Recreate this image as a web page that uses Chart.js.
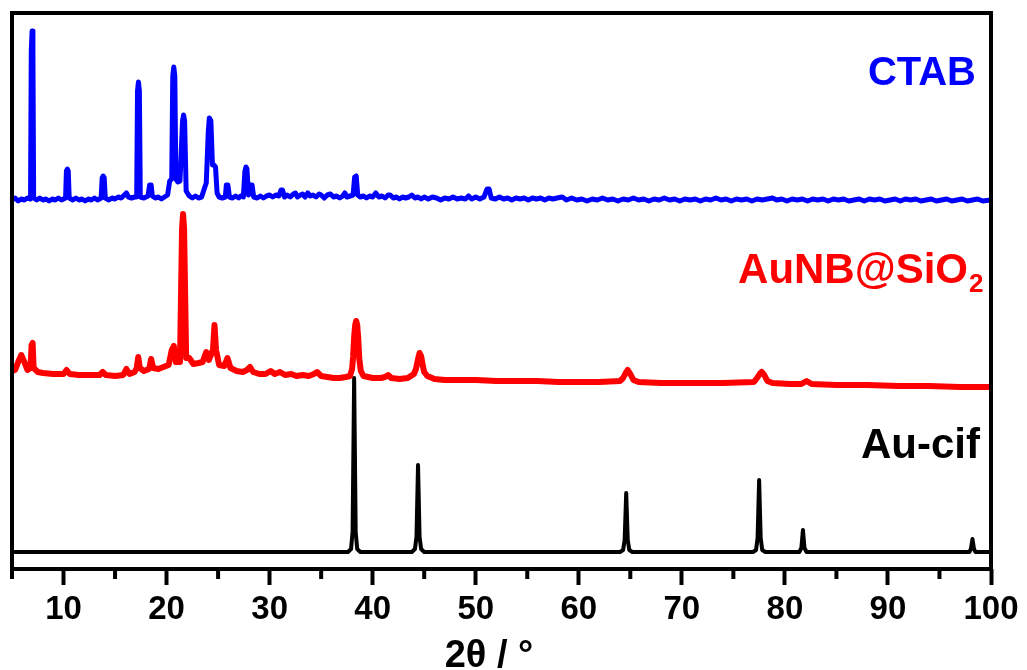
<!DOCTYPE html>
<html>
<head>
<meta charset="utf-8">
<script src="https://cdn.jsdelivr.net/npm/chart.js@4/dist/chart.umd.min.js"></script>
<style>
  html, body { margin: 0; padding: 0; background: #fff; }
  #wrap { width: 1027px; height: 670px; }
</style>
</head>
<body>
<div id="wrap"><canvas id="xrdChart" width="1027" height="670"></canvas></div>
<script>
// Patrones XRD: [2θ, intensidad]; cada serie se desplaza en vertical
const seriesNames = ['CTAB', 'AuNB@SiO2', 'Au-cif'];
const offsets = [368, 180, 17];
const xTicks = [10, 20, 30, 40, 50, 60, 70, 80, 90, 100];
const minorTicks = [5, 15, 25, 35, 45, 55, 65, 75, 85, 95];
const xTitle = '2θ / °';

const ctab = [
    [5.0,1],[5.3,3],[5.6,0],[5.9,2],[6.2,1],[6.5,3],[6.8,2],[6.87,150],[6.95,170],[7.03,150],[7.1,3],
    [7.4,1],[7.7,3],[8.0,1],[8.3,2],[8.6,0],[8.9,2],[9.2,1],[9.5,3],[9.8,1],[10.2,3],[10.28,30],
    [10.37,32],[10.46,30],[10.55,3],[10.9,1],[11.2,3],[11.5,1],[11.8,2],[12.1,0],[12.4,2],[12.7,1],
    [13.0,3],[13.3,1],[13.65,3],[13.75,23],[13.85,25],[13.95,23],[14.05,3],[14.4,1],[14.7,3],[15.0,2],
    [15.3,4],[15.6,3],[15.9,6],[16.1,8],[16.3,4],[16.6,3],[16.9,4],[17.1,4],[17.18,110],[17.27,119],
    [17.36,110],[17.45,4],[17.8,3],[18.2,5],[18.35,16],[18.5,16],[18.62,5],[18.9,3],[19.2,4],[19.5,2],
    [19.8,4],[20.1,6],[20.3,20],[20.5,22],[20.6,125],[20.7,134],[20.8,125],[20.9,22],[21.1,19],[21.3,20],
    [21.55,80],[21.65,86],[21.75,80],[21.9,10],[22.2,5],[22.5,3],[22.8,5],[23.1,3],[23.4,4],[23.65,12],
    [23.85,18],[24.05,70],[24.15,83],[24.3,80],[24.45,36],[24.6,36],[24.75,34],[24.9,8],[25.1,4],[25.4,3],
    [25.7,4],[25.8,16],[25.95,16],[26.1,4],[26.4,3],[26.7,5],[27.0,3],[27.2,5],[27.45,4],[27.6,30],
    [27.7,34],[27.8,32],[27.95,6],[28.15,16],[28.3,16],[28.45,4],[28.8,3],[29.1,5],[29.4,3],[29.7,5],
    [30.0,6],[30.3,4],[30.6,6],[30.9,5],[31.1,11],[31.25,11],[31.45,4],[31.7,6],[32.0,4],[32.3,7],
    [32.5,8],[32.7,4],[33.0,6],[33.2,7],[33.45,4],[33.7,8],[33.95,5],[34.2,6],[34.5,4],[34.8,7],
    [35.0,6],[35.3,3],[35.6,6],[35.9,7],[36.2,4],[36.5,5],[36.8,3],[37.1,5],[37.3,8],[37.5,4],
    [37.8,5],[38.1,6],[38.25,24],[38.4,25],[38.55,6],[38.8,4],[39.1,5],[39.4,3],[39.7,5],[40.0,4],
    [40.3,8],[40.6,4],[40.9,5],[41.2,3],[41.5,6],[41.7,6],[42.0,3],[42.3,4],[42.6,2],[42.9,4],
    [43.2,3],[43.5,4],[43.8,6],[44.1,3],[44.4,4],[44.7,2],[45.0,4],[45.4,2],[45.8,4],[46.2,3],
    [46.6,1],[47.0,3],[47.4,2],[47.8,4],[48.2,2],[48.6,3],[49.0,2],[49.3,5],[49.6,2],[50.0,4],
    [50.4,2],[50.8,4],[51.1,12],[51.3,12],[51.5,3],[51.9,2],[52.3,4],[52.7,2],[53.1,3],[53.5,1],
    [53.9,3],[54.3,2],[54.7,3],[55.1,1],[55.5,3],[55.9,2],[56.3,3],[56.7,1],[57.1,3],[57.5,2],
    [57.9,3],[58.4,4],[58.8,1],[59.3,3],[59.8,1],[60.3,2],[60.8,0],[61.3,2],[61.8,1],[62.3,3],
    [62.8,1],[63.3,2],[63.8,0],[64.3,2],[64.8,1],[65.3,3],[65.8,1],[66.3,2],[66.8,0],[67.3,2],
    [67.8,1],[68.3,3],[68.8,1],[69.3,2],[69.8,0],[70.3,2],[70.8,1],[71.3,2],[71.8,0],[72.3,2],
    [72.8,1],[73.3,3],[73.8,1],[74.3,2],[74.8,0],[75.3,2],[75.8,1],[76.3,2],[76.8,0],[77.3,2],
    [77.8,1],[78.3,2],[78.8,3],[79.2,1],[79.7,2],[80.2,0],[80.7,2],[81.2,1],[81.7,2],[82.2,0],
    [82.7,2],[83.2,1],[83.7,2],[84.2,0],[84.7,2],[85.2,1],[85.7,2],[86.2,0],[86.7,1],[87.2,2],
    [87.7,0],[88.2,2],[88.7,1],[89.2,2],[89.7,0],[90.2,1],[90.7,2],[91.2,0],[91.7,2],[92.2,1],
    [92.7,2],[93.2,0],[93.7,1],[94.2,2],[94.7,0],[95.2,1],[95.7,2],[96.2,0],[96.7,1],[97.2,2],
    [97.7,0],[98.2,1],[98.7,2],[99.2,0],[100,1]
];

const aunb = [
    [5.0,18],[5.3,19],[5.6,27],[5.9,34],[6.2,27],[6.5,19],[6.8,21],[6.9,44],[7.0,46],[7.1,21],
    [7.5,17],[8.0,16],[9.0,15],[10.0,15],[10.3,19],[10.6,15],[11.5,14],[12.5,14],[13.5,14],[13.8,17],
    [14.1,14],[15.0,13],[15.8,14],[16.1,20],[16.4,15],[16.9,17],[17.1,21],[17.25,32],[17.4,21],[17.8,18],
    [18.3,20],[18.5,30],[18.7,21],[19.2,20],[19.7,22],[20.2,24],[20.5,39],[20.7,43],[20.9,27],[21.3,27],
    [21.5,160],[21.6,175],[21.7,160],[21.9,31],[22.2,31],[22.6,25],[23.1,26],[23.5,27],[23.85,37],[24.1,29],
    [24.5,39],[24.65,64],[24.8,39],[25.1,24],[25.6,23],[25.9,31],[26.2,21],[26.8,18],[27.4,17],[27.8,19],
    [28.1,22],[28.4,17],[29.0,15],[29.6,15],[30.1,18],[30.5,15],[31.0,17],[31.5,14],[32.1,15],[32.6,13],
    [33.2,14],[33.8,13],[34.3,15],[34.6,17],[35.0,13],[35.6,12],[36.2,11],[36.8,11],[37.4,12],[37.8,13],
    [38.0,20],[38.1,32],[38.2,52],[38.3,64],[38.4,68],[38.5,64],[38.6,50],[38.7,30],[38.85,18],[39.1,13],
    [40.0,11],[40.8,11],[41.2,12],[41.5,14],[41.8,11],[42.6,10],[43.4,11],[44.0,15],[44.2,20],[44.4,30],
    [44.55,36],[44.7,33],[44.85,24],[45.0,17],[45.3,13],[46.0,10],[47.0,9],[48.0,9],[50.0,9],[52.0,8],
    [54.0,8],[56.0,8],[58.0,7],[60.0,7],[62.0,7],[64.0,8],[64.3,11],[64.55,16],[64.75,19],[65.0,15],
    [65.3,9],[65.8,7],[68.0,6],[71.0,6],[74.0,6],[77.0,7],[77.3,11],[77.55,15],[77.75,17],[78.0,14],
    [78.3,8],[78.8,6],[80.5,5],[81.6,5],[82.1,8],[82.6,5],[85.0,4],[88.0,4],[91.0,3],[94.0,3],
    [97.0,2],[100,2]
];

const aucif = [
    [5,0],[37.6,0],[37.9,3],[38.05,20],[38.2,174],[38.35,20],[38.5,3],[38.8,0],
    [43.8,0],[44.1,3],[44.25,15],[44.4,87],[44.55,15],[44.7,3],[45.0,0],
    [64.0,0],[64.3,2],[64.45,12],[64.6,59],[64.75,12],[64.9,2],[65.2,0],
    [76.9,0],[77.2,2],[77.35,14],[77.5,72],[77.65,14],[77.8,2],[78.1,0],
    [81.4,0],[81.6,4],[81.75,22],[81.9,4],[82.1,0],
    [97.9,0],[98.05,3],[98.2,13],[98.35,3],[98.5,0],[100,0]
];

const colors = ['#0000ff', '#ff0000', '#000000'];
const widths = [5, 6, 4];
const FONT = '"Liberation Sans", Arial, sans-serif';

function toPoints(arr, off) {
    return arr.map(p => ({ x: p[0], y: p[1] + off }));
}

// Marco, ticks menores, título del eje y etiquetas de cada patrón
const decorPlugin = {
    id: 'decor',
    afterDraw(chart) {
        const { ctx, chartArea: a, scales: { x } } = chart;
        ctx.save();
        ctx.strokeStyle = '#000';
        ctx.lineWidth = 4;
        ctx.strokeRect(a.left, a.top, a.right - a.left, a.bottom - a.top);
        ctx.beginPath();
        minorTicks.forEach(v => {
            const px = x.getPixelForValue(v);
            ctx.moveTo(px, a.bottom);
            ctx.lineTo(px, a.bottom + 10);
        });
        ctx.stroke();

        ctx.textBaseline = 'alphabetic';
        ctx.fillStyle = '#000';
        ctx.textAlign = 'center';
        ctx.font = 'bold 38px ' + FONT;
        ctx.fillText(xTitle, 489, 667);

        ctx.textAlign = 'right';
        ctx.font = 'bold 40px ' + FONT;
        ctx.fillStyle = colors[0];
        ctx.fillText('CTAB', 976, 85);
        ctx.font = 'bold 42px ' + FONT;
        ctx.fillStyle = colors[1];
        ctx.fillText('AuNB@SiO', 968, 283);
        ctx.font = 'bold 26px ' + FONT;
        ctx.textAlign = 'left';
        ctx.fillText('2', 969, 292);
        ctx.font = 'bold 42px ' + FONT;
        ctx.textAlign = 'right';
        ctx.fillStyle = colors[2];
        ctx.fillText('Au-cif', 980, 458);
        ctx.restore();
    }
};

new Chart(document.getElementById('xrdChart').getContext('2d'), {
    type: 'line',
    data: {
        datasets: [ctab, aunb, aucif].map((s, i) => ({
            label: seriesNames[i],
            data: toPoints(s, offsets[i]),
            borderColor: colors[i],
            borderWidth: widths[i],
            borderJoinStyle: 'round',
            borderCapStyle: 'round',
            pointRadius: 0,
            tension: 0,
            fill: false
        }))
    },
    options: {
        responsive: false,
        animation: false,
        layout: { padding: { left: 12, right: 36, top: 13, bottom: 0 } },
        plugins: { legend: { display: false }, tooltip: { enabled: false } },
        scales: {
            x: {
                type: 'linear',
                min: 5,
                max: 100,
                border: { display: false },
                grid: {
                    drawOnChartArea: false,
                    drawTicks: true,
                    tickLength: 16,
                    tickWidth: 4,
                    tickColor: c => (xTicks.includes(c.tick.value) ? '#000' : 'rgba(0,0,0,0)')
                },
                ticks: {
                    stepSize: 5,
                    autoSkip: false,
                    maxRotation: 0,
                    padding: 5,
                    color: '#000',
                    font: { family: FONT, size: 33, weight: 'bold', lineHeight: 1.2 },
                    callback: v => (xTicks.includes(v) ? String(v) : '')
                },
                afterFit: scale => { scale.height = 101; }
            },
            y: {
                display: false,
                min: 0,
                max: 556
            }
        }
    },
    plugins: [decorPlugin]
});
</script>
</body>
</html>
